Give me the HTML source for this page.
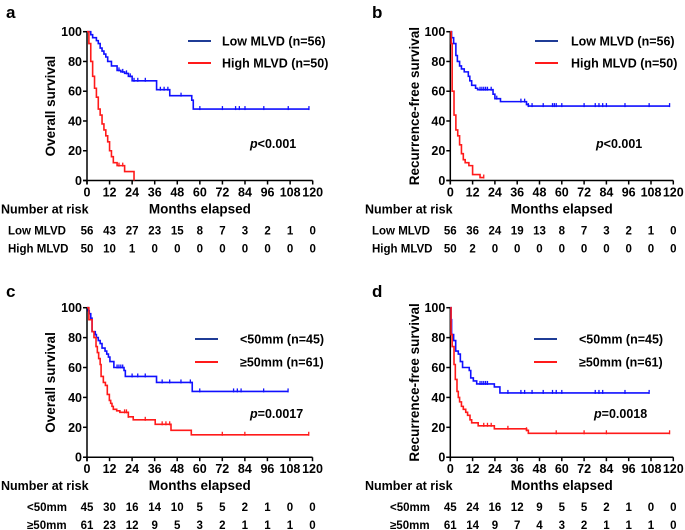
<!DOCTYPE html>
<html><head><meta charset="utf-8"><style>
html,body{margin:0;padding:0;background:#fff;}
svg{display:block;font-family:"Liberation Sans",Arial,sans-serif;font-weight:bold;}
</style></head><body>
<svg id="fig" width="685" height="530" viewBox="0 0 685 530" xmlns="http://www.w3.org/2000/svg"></svg>
<script>
// ---- data ----
const xTicks = [0,12,24,36,48,60,72,84,96,108,120];
const yTicks = [0,20,40,60,80,100];
// Panel a
const aLowT = [0,2,3,5,6,7,8,9,10,11,13,16,18,20,22,24,37,44,55.7,56.5];
const aLowS = [100,98,96,94,92,89,87,85,83,80,77,74,73,72,70,67,61,57,54,48];
const aLowEnd = 118;
const aLowCens = [17,19,21,23,25,27,31,39,41,43,50,60,72,79,81,84,94,107,118];
const aHighT = [0,1,2,3,4,5,6,7,8,9,10,11,12,13,14,16,20,25];
const aHighS = [100,92,80,70,62,56,48,44,38,34,30,26,20,16,12,10,6,0];
const aHighEnd = 25;
const aHighCens = [17,19];
// Panel b
const bLowT = [0,0.7,1.8,3,3.8,5,6,7.5,9.7,10.5,11.5,13.6,14.7,23,24,27,41,42];
const bLowS = [100,96,92,84,80,77,75,73,70,67,64,62,61,58,55,53,51,50];
const bLowEnd = 118;
const bLowCens = [16,17,18,19,20,22,25,38,40,42,44,50,55,56,57,60,72,78,80,82,84,94,107,118];
const bHighT = [0,0.5,1,2,3,4,5,6,7,8,10,12,16];
const bHighS = [100,92,60,44,34,30,24,18,14,12,10,4,2];
const bHighEnd = 18;
const bHighCens = [18];
// Panel c
const cLowT = [0,0.7,1.2,2,2.7,4.4,5,6,7,8,9.6,10.5,11.4,12.2,14.3,19.7,20.4,37,56];
const cLowS = [100,98,96,93,84,82,80,78,76,73,71,69,67,64,60,58,54,50,44];
const cLowEnd = 107;
const cLowCens = [16,17,18,19,24,27,31,40,44,50,55,60,78,80,82,94,107];
const cHighT = [0,1,2.7,3.7,4.8,5.5,6.2,7,7.5,8.7,9.8,10.8,11.9,12.6,13.3,14,15.8,17.5,22,24.6,36.3,44.7,55.5];
const cHighS = [100,92,84,80,74,70,66,62,54,50,48,42,38,36,34,32,31,30,27,25,22,18,15];
const cHighEnd = 118;
const cHighCens = [20,21,22,31,40,42,44,72,84,118];
// Panel d
const dLowT = [0,0.4,0.7,1.8,2.9,4.3,5.4,6.6,10.2,11,12.4,14.2,23.7,26.7];
const dLowS = [100,92,82,78,71,69,64,60,58,53,51,49,47,43];
const dLowEnd = 107;
const dLowCens = [16,17,18,19,20,31,38,40,44,50,55,57,60,78,80,82,94,107];
const dHighT = [0,0.4,1,2,2.7,3.6,4.3,5,6,7,8.3,9.3,10.6,11.5,15,23.7,41,42];
const dHighS = [100,82,74,62,52,44,40,37,34,32,30,28,25,23,21,19,18,16];
const dHighEnd = 118;
const dHighCens = [18,20,22,31,41,57,72,84,118];
// risk tables
const aRiskLow = [56,43,27,23,15,8,7,3,2,1,0];
const aRiskHigh = [50,10,1,0,0,0,0,0,0,0,0];
const bRiskLow = [56,36,24,19,13,8,7,3,2,1,0];
const bRiskHigh = [50,2,0,0,0,0,0,0,0,0,0];
const cRiskLow = [45,30,16,14,10,5,5,2,1,0,0];
const cRiskHigh = [61,23,12,9,5,3,2,1,1,1,0];
const dRiskLow = [45,24,16,12,9,5,5,2,1,0,0];
const dRiskHigh = [61,14,9,7,4,3,2,1,1,1,0];

const NS="http://www.w3.org/2000/svg";
const svg=document.getElementById('fig');
function mk(tag,attrs,parent,txt){const e=document.createElementNS(NS,tag);for(const k in attrs)e.setAttribute(k,attrs[k]);if(txt!==undefined)e.textContent=txt;(parent||svg).appendChild(e);return e;}

function panel(p){
  const g=mk('g',{});
  
  
  const X=t=>p.x0+(p.x1-p.x0)*t/120;
  const Y=v=>p.y0-(p.y0-p.y1)*v/100;
  let e;
  e=mk('text',{x:p.lx,y:p.ly,'font-size':17},g,p.id);
   
  e=mk('line',{x1:p.x0,y1:p.y1,x2:p.x0,y2:p.y0+4,stroke:'#000','stroke-width':1.5},g);
   
  e=mk('line',{x1:p.x0-4,y1:p.y0,x2:p.x1,y2:p.y0,stroke:'#000','stroke-width':1.5},g);
   
  yTicks.forEach(v=>{
    e=mk('line',{x1:p.x0-4,y1:Y(v),x2:p.x0,y2:Y(v),stroke:'#000','stroke-width':1.5},g);
     
    e=mk('text',{x:p.x0-5,y:Y(v)+4.5,'font-size':12.5,'text-anchor':'end'},g,v);
     
  });
  xTicks.forEach(v=>{
    e=mk('line',{x1:X(v),y1:p.y0,x2:X(v),y2:p.y0+4,stroke:'#000','stroke-width':1.5},g);
     
    e=mk('text',{x:X(v),y:p.y0+16,'font-size':12.5,'text-anchor':'middle'},g,v);
     
  });
  e=mk('text',{x:(p.x0+p.x1)/2,y:p.y0+33,'font-size':13.5,'text-anchor':'middle'},g,'Months elapsed');
   
  const yc=(p.y0+p.y1)/2;
  e=mk('text',{x:p.ytx,y:yc,'font-size':13.5,'text-anchor':'middle',transform:`rotate(-90 ${p.ytx} ${yc})`},g,p.ytitle);
   
  function curve(T,S,end,cens,color,name){
    let d=`M${X(T[0])},${Y(S[0])}`;
    for(let i=1;i<T.length;i++){d+=` H${X(T[i])} V${Y(S[i])}`;}
    d+=` H${X(end)}`;
    e=mk('path',{d:d,fill:'none',stroke:color,'stroke-width':1.6},g);
     
    cens.forEach(c=>{
      let s=S[0];for(let i=0;i<T.length;i++){if(T[i]<=c)s=S[i];}
      e=mk('line',{x1:X(c),y1:Y(s)-3,x2:X(c),y2:Y(s)+1,stroke:color,'stroke-width':1.3},g);
       
    });
  }
  curve(p.lowT,p.lowS,p.lowEnd,p.lowC,'#1010ff','low-group');
  curve(p.highT,p.highS,p.highEnd,p.highC,'#ff1a1a','high-group');
  e=mk('line',{x1:p.legX,y1:p.legY1,x2:p.legX+23,y2:p.legY1,stroke:'#1f3c96','stroke-width':2},g);
   
  e=mk('text',{x:p.legTX,y:p.legY1+4.5,'font-size':12.5},g,p.lowName);
   
  e=mk('line',{x1:p.legX,y1:p.legY2,x2:p.legX+23,y2:p.legY2,stroke:'#ff1a1a','stroke-width':2},g);
   
  e=mk('text',{x:p.legTX,y:p.legY2+4.5,'font-size':12.5},g,p.highName);
   
  const pt=mk('text',{x:p.px,y:p.py,'font-size':12.5},g);
   
  mk('tspan',{'font-style':'italic'},pt,'p');
  mk('tspan',{},pt,p.pval);
  e=mk('text',{x:p.nrx,y:p.y0+33,'font-size':12.5},g,'Number at risk');
   
  e=mk('text',{x:p.rlx,y:p.y0+54,'font-size':11.5},g,p.rowLow);
   
  e=mk('text',{x:p.rlx,y:p.y0+72,'font-size':11.5},g,p.rowHigh);
   
  xTicks.forEach((v,i)=>{
    e=mk('text',{x:X(v),y:p.y0+54,'font-size':11.5,'text-anchor':'middle'},g,p.riskLow[i]);
     
    e=mk('text',{x:X(v),y:p.y0+72,'font-size':11.5,'text-anchor':'middle'},g,p.riskHigh[i]);
     
  });
}
const topRow={y1:31.7,y0:180.5}, botRow={y1:307.7,y0:457.2};
panel({id:'a',lx:6,ly:18,x0:87,x1:312.7,...topRow,ytx:55,ytitle:'Overall survival',
  lowT:aLowT,lowS:aLowS,lowEnd:aLowEnd,lowC:aLowCens,highT:aHighT,highS:aHighS,highEnd:aHighEnd,highC:aHighCens,
  legX:188,legY1:41,legY2:63,legTX:222,lowName:'Low MLVD (n=56)',highName:'High MLVD (n=50)',
  px:250,py:148,pval:'<0.001',nrx:1,rlx:8,rowLow:'Low MLVD',rowHigh:'High MLVD',riskLow:aRiskLow,riskHigh:aRiskHigh});
panel({id:'b',lx:372,ly:18,x0:450.3,x1:673.3,...topRow,ytx:419,ytitle:'Recurrence-free survival',
  lowT:bLowT,lowS:bLowS,lowEnd:bLowEnd,lowC:bLowCens,highT:bHighT,highS:bHighS,highEnd:bHighEnd,highC:bHighCens,
  legX:535,legY1:41,legY2:63,legTX:571,lowName:'Low MLVD (n=56)',highName:'High MLVD (n=50)',
  px:596,py:148,pval:'<0.001',nrx:365,rlx:372,rowLow:'Low MLVD',rowHigh:'High MLVD',riskLow:bRiskLow,riskHigh:bRiskHigh});
panel({id:'c',lx:6,ly:297,x0:87,x1:312.5,...botRow,ytx:55,ytitle:'Overall survival',
  lowT:cLowT,lowS:cLowS,lowEnd:cLowEnd,lowC:cLowCens,highT:cHighT,highS:cHighS,highEnd:cHighEnd,highC:cHighCens,
  legX:195,legY1:339,legY2:362,legTX:240,lowName:'<50mm  (n=45)',highName:'≥50mm  (n=61)',
  px:250,py:418,pval:'=0.0017',nrx:1,rlx:27,rowLow:'<50mm',rowHigh:'≥50mm',riskLow:cRiskLow,riskHigh:cRiskHigh});
panel({id:'d',lx:372,ly:297,x0:450.3,x1:673.3,...botRow,ytx:419,ytitle:'Recurrence-free survival',
  lowT:dLowT,lowS:dLowS,lowEnd:dLowEnd,lowC:dLowCens,highT:dHighT,highS:dHighS,highEnd:dHighEnd,highC:dHighCens,
  legX:534,legY1:339,legY2:362,legTX:579,lowName:'<50mm  (n=45)',highName:'≥50mm  (n=61)',
  px:594,py:418,pval:'=0.0018',nrx:365,rlx:390,rowLow:'<50mm',rowHigh:'≥50mm',riskLow:dRiskLow,riskHigh:dRiskHigh});
</script>
</body></html>
